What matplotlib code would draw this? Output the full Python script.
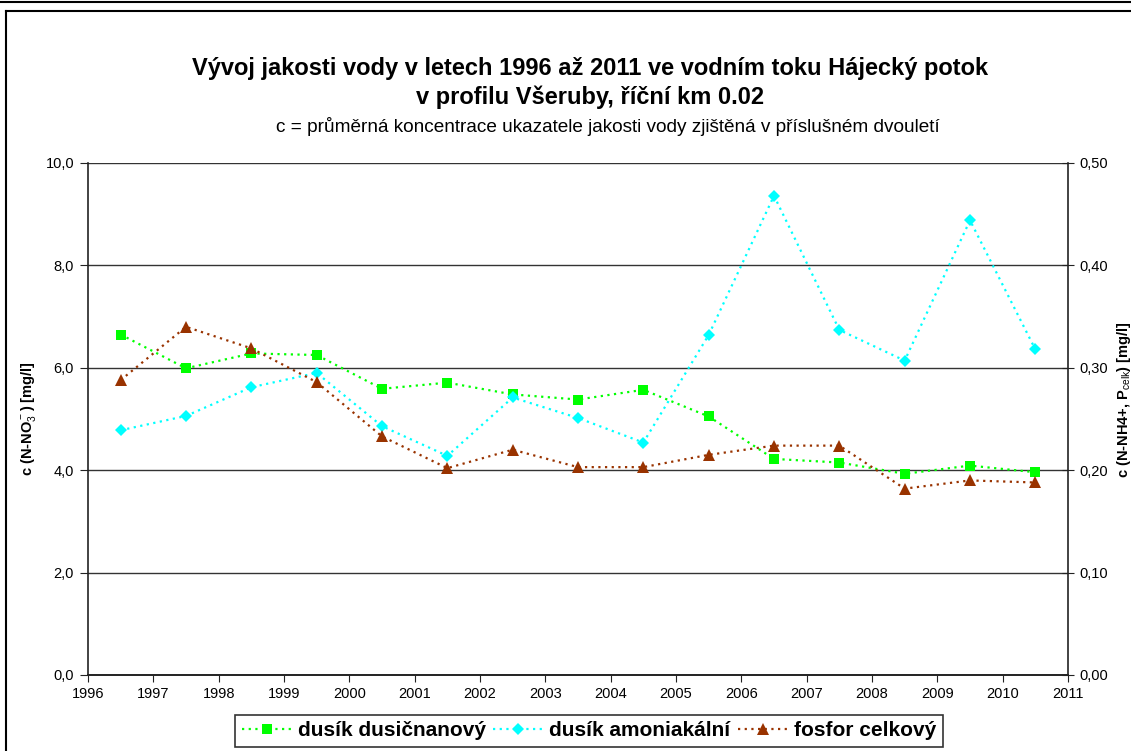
import matplotlib
matplotlib.use("Agg")
import matplotlib.pyplot as plt
from matplotlib.lines import Line2D
from matplotlib.ticker import FuncFormatter, MultipleLocator

plt.rcParams['font.family'] = ['Liberation Sans', 'DejaVu Sans']
plt.rcParams['mathtext.fontset'] = 'custom'
plt.rcParams['mathtext.rm'] = 'Liberation Sans'
plt.rcParams['mathtext.bf'] = 'Liberation Sans:bold'

years = [1996.5, 1997.5, 1998.5, 1999.5, 2000.5, 2001.5, 2002.5, 2003.5,
         2004.5, 2005.5, 2006.5, 2007.5, 2008.5, 2009.5, 2010.5]
dusik_dusicnanovy = [6.65, 5.99, 6.28, 6.25, 5.59, 5.71, 5.48, 5.38,
                     5.57, 5.05, 4.22, 4.15, 3.93, 4.09, 3.96]
dusik_amoniakalni = [0.239, 0.253, 0.281, 0.295, 0.243, 0.214, 0.271, 0.251,
                     0.227, 0.332, 0.468, 0.337, 0.307, 0.444, 0.318]
fosfor_celkovy = [0.288, 0.340, 0.319, 0.286, 0.233, 0.202, 0.220, 0.203,
                  0.203, 0.215, 0.224, 0.224, 0.182, 0.190, 0.188]
labels = ["dusík dusičnanový", "dusík amoniakální", "fosfor celkový"]
x_ticks = list(range(1996, 2012))

W, H = 1131, 751
fig = plt.figure(figsize=(W / 100, H / 100), dpi=100)

# outer frame lines
fig.add_artist(Line2D([0, 1], [1 - 1.5 / H, 1 - 1.5 / H], color='black', lw=1.5))
fig.add_artist(Line2D([5.5 / W, 1], [1 - 10.5 / H, 1 - 10.5 / H], color='black', lw=1.5))
fig.add_artist(Line2D([5.5 / W, 5.5 / W], [0, 1 - 10.5 / H], color='black', lw=1.5))

ax = fig.add_axes([88 / W, 1 - 675 / H, 980 / W, 512 / H])
ax2 = ax.twinx()

ax.set_xlim(1996, 2011)
ax.set_ylim(0, 10)
ax2.set_ylim(0, 0.5)

ax.yaxis.set_major_locator(MultipleLocator(2))
ax2.yaxis.set_major_locator(MultipleLocator(0.1))
ax.set_xticks(x_ticks)
ax.yaxis.set_major_formatter(FuncFormatter(lambda v, p: f"{v:.1f}".replace('.', ',')))
ax2.yaxis.set_major_formatter(FuncFormatter(lambda v, p: f"{v:.2f}".replace('.', ',')))

ax.grid(axis='y', color='#333333', lw=1.0)
ax.set_axisbelow(True)
for s in ['top', 'right']:
    ax.spines[s].set_visible(False)
ax2.spines['top'].set_visible(False)
ax2.spines['left'].set_visible(False)
for a in (ax, ax2):
    for s in a.spines.values():
        s.set_color('#222222')
        s.set_linewidth(1.2)

ax.tick_params(axis='y', direction='out', length=6, labelsize=10.5, pad=4, colors='#222222', labelcolor='black')
ax.tick_params(axis='x', direction='out', length=5, labelsize=10.5, pad=4, colors='#222222', labelcolor='black')
ax2.tick_params(axis='y', direction='inout', length=9, labelsize=10.5, pad=4, colors='#222222', labelcolor='black')

l1, = ax.plot(years, dusik_dusicnanovy, linestyle=(0, (1, 2)), lw=1.6, color='#00ff00',
              marker='s', markersize=7, markeredgewidth=0, label=labels[0], zorder=3)
l2, = ax2.plot(years, dusik_amoniakalni, linestyle=(0, (1, 2)), lw=1.6, color='#00ffff',
               marker='D', markersize=6, markeredgewidth=0, label=labels[1], zorder=3)
l3, = ax2.plot(years, fosfor_celkovy, linestyle=(0, (1, 2)), lw=1.6, color='#993300',
               marker='^', markersize=8, markeredgewidth=0, label=labels[2], zorder=3)

ax.set_ylabel(r"c (N-NO$_3^-$) [mg/l]", fontsize=10.5, fontweight='bold', labelpad=5)
ax2.set_ylabel(r"c (N-NH4+, P$_{\mathrm{celk}}$) [mg/l]", fontsize=10.5, fontweight='bold')
ax2.yaxis.set_label_coords(1 + 47 / 980, (675 - 400) / 512)

fig.text(590 / W, 1 - 68 / H, "Vývoj jakosti vody v letech 1996 až 2011 ve vodním toku Hájecký potok",
         ha='center', va='center', fontsize=17, fontweight='bold')
fig.text(590 / W, 1 - 97 / H, "v profilu Všeruby, říční km 0.02",
         ha='center', va='center', fontsize=17, fontweight='bold')
fig.text(608 / W, 1 - 127 / H, "c = průměrná koncentrace ukazatele jakosti vody zjištěná v příslušném dvouletí",
         ha='center', va='center', fontsize=13.7)

leg = fig.legend(handles=[l1, l2, l3], loc='center', bbox_to_anchor=(589 / W, 1 - 731 / H),
                 ncol=3, frameon=True, fancybox=False, edgecolor='black',
                 prop={'weight': 'bold', 'size': 15}, handlelength=2.4, handletextpad=0.3,
                 columnspacing=0.35, borderpad=0.3, borderaxespad=0)
leg.get_frame().set_linewidth(1.2)

fig.savefig("out.png", dpi=100)
